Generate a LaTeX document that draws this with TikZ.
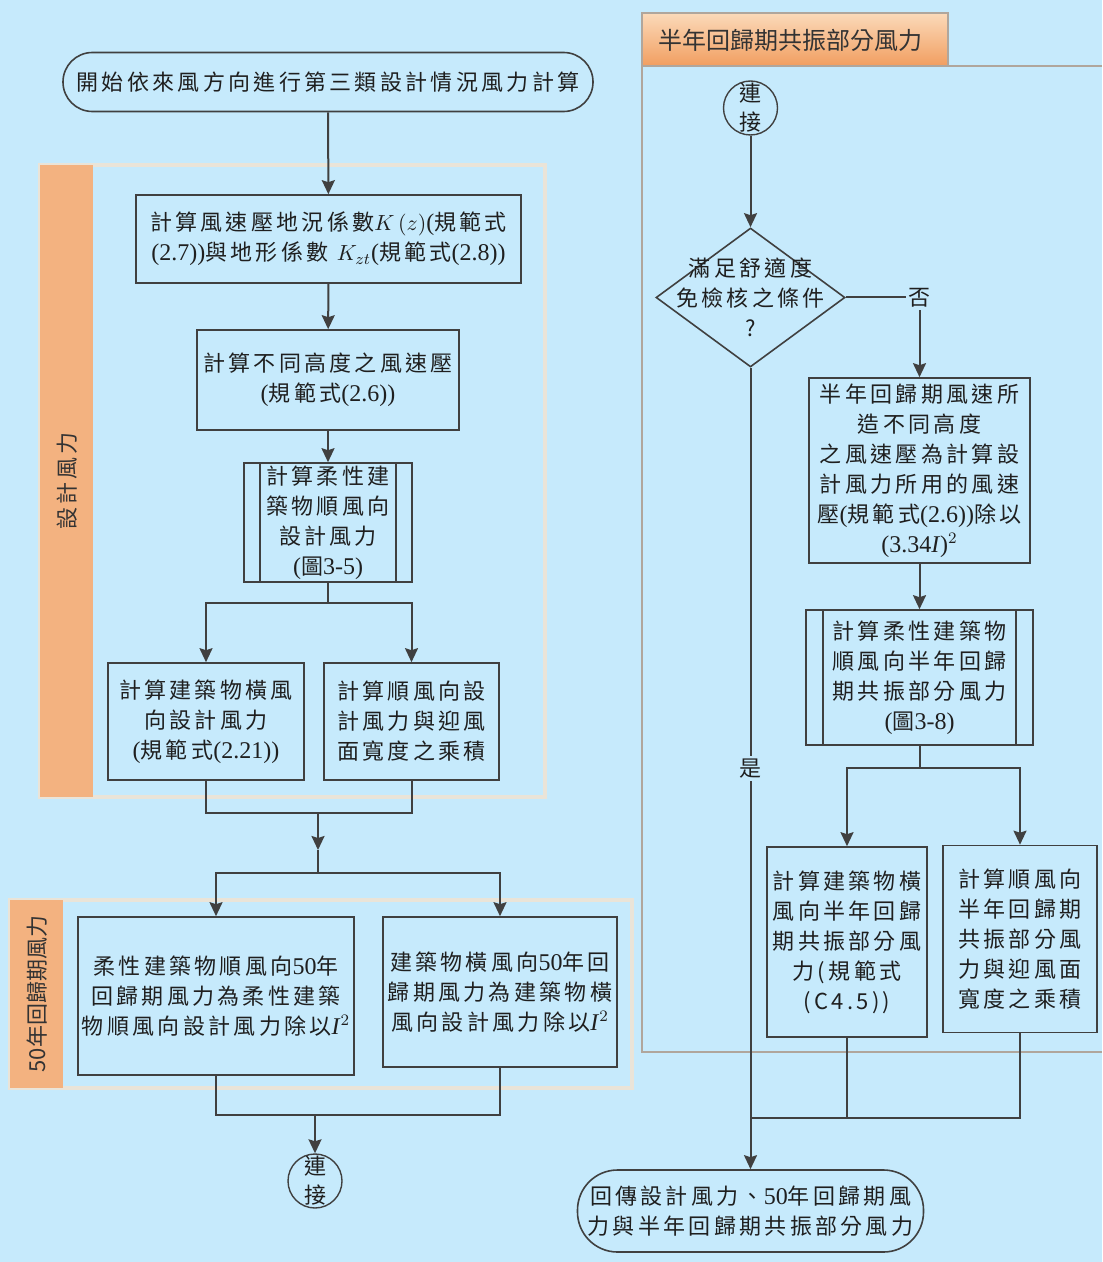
\documentclass[tikz,border=0pt]{standalone}
\usepackage{fontspec}
\setmainfont{Noto Sans CJK TC}[LetterSpace=15]
\newfontfamily\tnr{Liberation Serif}
\newfontfamily\hei{Noto Sans CJK TC}
\newcommand\tn[1]{{\tnr\fontsize{12}{15}\selectfont #1}}
\usetikzlibrary{shapes.geometric,arrows.meta}
\definecolor{bgblue}{RGB}{198,234,252}
\definecolor{barorange}{RGB}{243,178,128}
\definecolor{lanerim}{RGB}{234,228,216}
\definecolor{lanegray}{RGB}{176,166,156}
\definecolor{ink}{RGB}{64,64,64}
\definecolor{tabtop}{RGB}{251,218,186}
\definecolor{tabbot}{RGB}{241,158,96}

\begin{document}
\begin{tikzpicture}[x=0.5pt,y=-0.5pt,>={Stealth[length=7pt,width=6.5pt,inset=1pt]},
  font=\fontsize{11}{15}\selectfont,text=black!88,
  proc/.style={draw=ink,line width=0.8pt,fill=bgblue,align=center,inner sep=2pt},
  term/.style={proc,rounded corners=#1},
  conn/.style={circle,draw=ink,line width=0.7pt,fill=bgblue,inner sep=0pt,minimum size=27pt,align=center,font=\fontsize{11}{14.5}\selectfont},
  decide/.style={diamond,draw=ink,line width=0.8pt,fill=bgblue,inner sep=0pt,minimum width=94.5pt,minimum height=69.5pt},
  lbl/.style={fill=bgblue,inner sep=1.5pt},
  flow/.style={draw=ink,line width=1pt},
  lane/.style={draw=lanerim,line width=2pt},
  lanetext/.style={rotate=90,text=black!80}]
% canvas
\useasboundingbox (0,0) rectangle (1102,1262);
\fill[bgblue] (0,0) rectangle (1102,1262);

% lanes
\draw[lane] (40,165) rectangle (545,797);
\fill[barorange] (40,165) rectangle (93,797);
\node[lanetext] (lnA) at (67,481) {設計風力};
\draw[lane] (10,900) rectangle (632,1088);
\fill[barorange] (10,900) rectangle (63,1088);
\node[lanetext,font=\hei\fontsize{11}{13}\selectfont] (lnB) at (37,994) {50年回歸期風力};
\draw[lanegray,line width=1pt] (1102,66) -- (642,66) -- (642,1052) -- (1102,1052);
\shade[top color=tabtop,bottom color=tabbot,draw=lanegray,line width=1pt] (642,13) rectangle (948,66);
\node[font=\hei\fontsize{12}{14}\selectfont,text=black!80] (lnC) at (790,40) {半年回歸期共振部分風力};

% left column
\node[term=14.7pt,minimum width=265pt,minimum height=29.5pt] (start) at (328,82) {開始依來風方向進行第三類設計情況風力計算};
\node[proc,minimum width=192.5pt,minimum height=44pt] (b1) at (328.5,239)
  {計算風速壓地況係數$K\left(z\right)$\tn{(}規範式\\\tn{(2.7))}與地形係數 $K_{zt}$\tn{(}規範式\tn{(2.8))}};
\node[proc,minimum width=131pt,minimum height=50pt] (b2) at (328,380) {計算不同高度之風速壓\\\tn{(}規範式\tn{(2.6))}};
\node[proc,minimum width=84pt,minimum height=59.5pt,inner sep=0pt] (b3) at (328,522.5) {計算柔性建\\築物順風向\\設計風力\\\tn{(}圖\tn{3-5)}};
\node[proc,minimum width=98pt,minimum height=58.5pt] (b4) at (206,721.5) {計算建築物橫風\\向設計風力\\\tn{(}規範式\tn{(2.21))}};
\node[proc,minimum width=87.5pt,minimum height=58.5pt] (b5) at (411.5,721.5) {計算順風向設\\計風力與迎風\\面寬度之乘積};
\node[proc,minimum width=138pt,minimum height=79pt] (b6) at (216,996) {柔性建築物順風向\tn{50}年\\回歸期風力為柔性建築\\物順風向設計風力除以\tn{\textit{I}$^2$}};
\node[proc,minimum width=117pt,minimum height=75pt] (b7) at (500,992) {建築物橫風向\tn{50}年回\\歸期風力為建築物橫\\風向設計風力除以\tn{\textit{I}$^2$}};
\node[conn] (c1) at (315,1181) {連\\接};

% right column
\node[conn] (c2) at (750.5,108) {連\\接};
\node[decide,label={[align=center]center:{滿足舒適度\\免檢核之條件\\?}}] (dia) at (750.5,297.5) {};
\node[proc,minimum width=110.5pt,minimum height=92.5pt,inner sep=0pt] (b8) at (919.5,470.5)
  {半年回歸期風速所\\造不同高度\\之風速壓為計算設\\計風力所用的風速\\壓\tn{(}規範式\tn{(2.6))}除以\\\tn{(3.34\textit{I})$^2$}};
\node[proc,minimum width=113.5pt,minimum height=67.5pt,inner sep=0pt] (b9) at (919.5,677.5) {計算柔性建築物\\順風向半年回歸\\期共振部分風力\\\tn{(}圖\tn{3-8)}};
\node[proc,minimum width=80pt,minimum height=95pt,inner sep=0pt] (b10) at (847,942) {計算建築物橫\\風向半年回歸\\期共振部分風\\力(規範式\\(C4.5))};
\node[proc,minimum width=77pt,minimum height=93.5pt,inner sep=0pt] (b11) at (1020,939) {計算順風向\\半年回歸期\\共振部分風\\力與迎風面\\寬度之乘積};
\node[term=20pt,minimum width=173pt,minimum height=41pt] (end) at (750.5,1211) {回傳設計風力、\tn{50}年回歸期風\\力與半年回歸期共振部分風力};

% double bars of the sub-processes
\foreach \n/\d in {b3/8.5pt,b9/9pt}{
  \draw[ink,line width=0.8pt] ([xshift=\d]\n.north west) -- ([xshift=\d]\n.south west);
  \draw[ink,line width=0.8pt] ([xshift=-\d]\n.north east) -- ([xshift=-\d]\n.south east);
}

% junctions
\coordinate (s1) at (328,603);
\coordinate (m1) at (318,813);
\coordinate (m1a) at (318,850);
\coordinate (s2) at (318,873);
\coordinate (m2) at (315,1115);
\coordinate (s3) at (919.5,768);
\coordinate (m3) at (750.5,1118);

% connectors
\draw[flow,->] (start) -- (b1);
\draw[flow,->] (b1) -- (b2);
\draw[flow,->] (b2) -- (b3);
\draw[flow] (b3) -- (s1);
\draw[flow,->] (s1) -| (b4);
\draw[flow,->] (s1) -| (b5);
\draw[flow] (b4) |- (m1);
\draw[flow] (b5) |- (m1);
\draw[flow,->] (m1) -- (m1a);
\draw[flow] (m1a) -- (s2);
\draw[flow,->] (s2) -| (b6);
\draw[flow,->] (s2) -| (b7);
\draw[flow] (b6) |- (m2);
\draw[flow] (b7) |- (m2);
\draw[flow,->] (m2) -- (c1);

\draw[flow,->] (c2) -- (dia);
\draw[flow,->] (dia) -| node[lbl] {否} (b8);
\draw[flow,->] (b8) -- (b9);
\draw[flow] (b9) -- (s3);
\draw[flow,->] (s3) -| (b10);
\draw[flow,->] (s3) -| (b11);
\draw[flow] (b10) |- (m3);
\draw[flow] (b11) |- (m3);
\draw[flow,->] (dia) -- node[lbl] {是} (end);
\end{tikzpicture}
\end{document}
